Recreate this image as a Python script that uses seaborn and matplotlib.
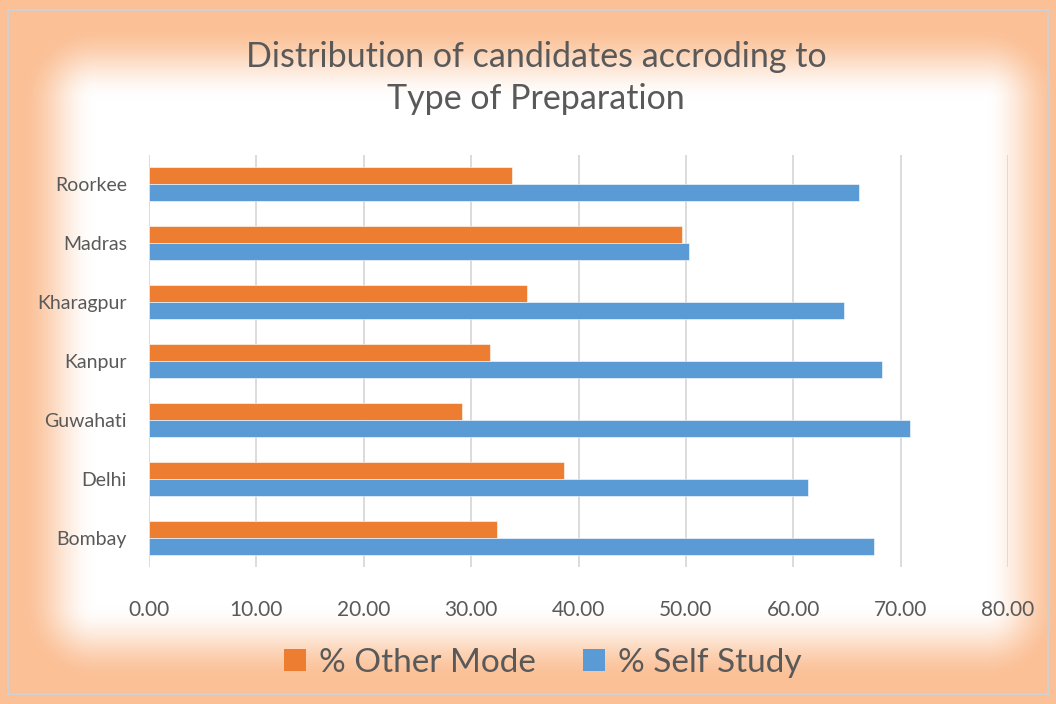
import numpy as np
import pandas as pd
import seaborn as sns
import matplotlib.pyplot as plt
from matplotlib.patches import Patch, Rectangle

# data
cities = ["Roorkee", "Madras", "Kharagpur", "Kanpur", "Guwahati", "Delhi", "Bombay"]
other_mode = [33.85, 49.67, 35.24, 31.77, 29.12, 38.66, 32.45]
self_study = [66.15, 50.33, 64.76, 68.23, 70.88, 61.34, 67.55]
series = ["% Other Mode", "% Self Study"]
xticks = [0, 10, 20, 30, 40, 50, 60, 70, 80]

df = pd.DataFrame({
    "City": cities * 2,
    "Value": other_mode + self_study,
    "Series": [series[0]] * len(cities) + [series[1]] * len(cities),
})

sns.set_style("white")
plt.rcParams["font.family"] = ["Lato", "DejaVu Sans"]

orange = "#ED7D31"
blue = "#5B9BD5"
text_col = "#595959"

W, H = 1056, 704
fig = plt.figure(figsize=(W / 100, H / 100), dpi=100)

# soft orange glow behind the chart
bg = fig.add_axes([0, 0, 1, 1])
yy, xx = np.mgrid[0:H, 0:W]
x0, x1, y0, y1 = 95, 985, 100, 605
dx = np.maximum(np.maximum(x0 - xx, xx - x1), 0)
dy = np.maximum(np.maximum(y0 - yy, yy - y1), 0)
d = np.sqrt(dx ** 2 + dy ** 2)
a = np.clip(d / 75.0, 0, 1)
a = a * a * (3 - 2 * a)
glow = np.array([251, 192, 150]) / 255.0
img = np.ones((H, W, 3)) * (1 - a[..., None]) + glow * a[..., None]
bg.imshow(img, extent=[0, W, H, 0], aspect="auto")
bg.add_patch(Rectangle((8, 10), 1040, 684, fill=False, edgecolor="#d0d0d0", lw=1.5))
bg.set_xlim(0, W)
bg.set_ylim(H, 0)
bg.axis("off")

ax = fig.add_axes([149 / W, 1 - 567 / H, 859 / W, 412 / H])
ax.set_facecolor("none")
sns.barplot(data=df, x="Value", y="City", hue="Series", order=cities,
            hue_order=series, palette=[orange, blue], saturation=1, width=0.58,
            edgecolor="#ffffff", linewidth=0.4, legend=False, ax=ax)

ax.set_xlim(0, 80)
ax.set_xticks(xticks)
ax.set_xticklabels([f"{v:.2f}" for v in xticks], fontsize=15, color=text_col)
ax.tick_params(axis="y", labelsize=14, labelcolor=text_col, length=0, pad=16)
ax.tick_params(axis="x", length=0, pad=24)
ax.set_xlabel("")
ax.set_ylabel("")
ax.grid(axis="x", color="#d9d9d9", linewidth=1.3)
ax.set_axisbelow(True)
for s in ax.spines.values():
    s.set_visible(False)

fig.text(536 / W, 1 - 78 / H,
         "Distribution of candidates accroding to\nType of Preparation",
         ha="center", va="center", fontsize=24.5,
         color=text_col, linespacing=1.35)

handles = [Patch(facecolor=orange, edgecolor="none", label=series[0]),
           Patch(facecolor=blue, edgecolor="none", label=series[1])]
fig.legend(handles=handles, loc="center", bbox_to_anchor=(543 / W, 1 - 663 / H),
           ncol=2, frameon=False, fontsize=24, labelcolor=text_col,
           handlelength=0.65, handleheight=0.65, handletextpad=0.4, columnspacing=1.4)

fig.savefig("out.png", dpi=100)
